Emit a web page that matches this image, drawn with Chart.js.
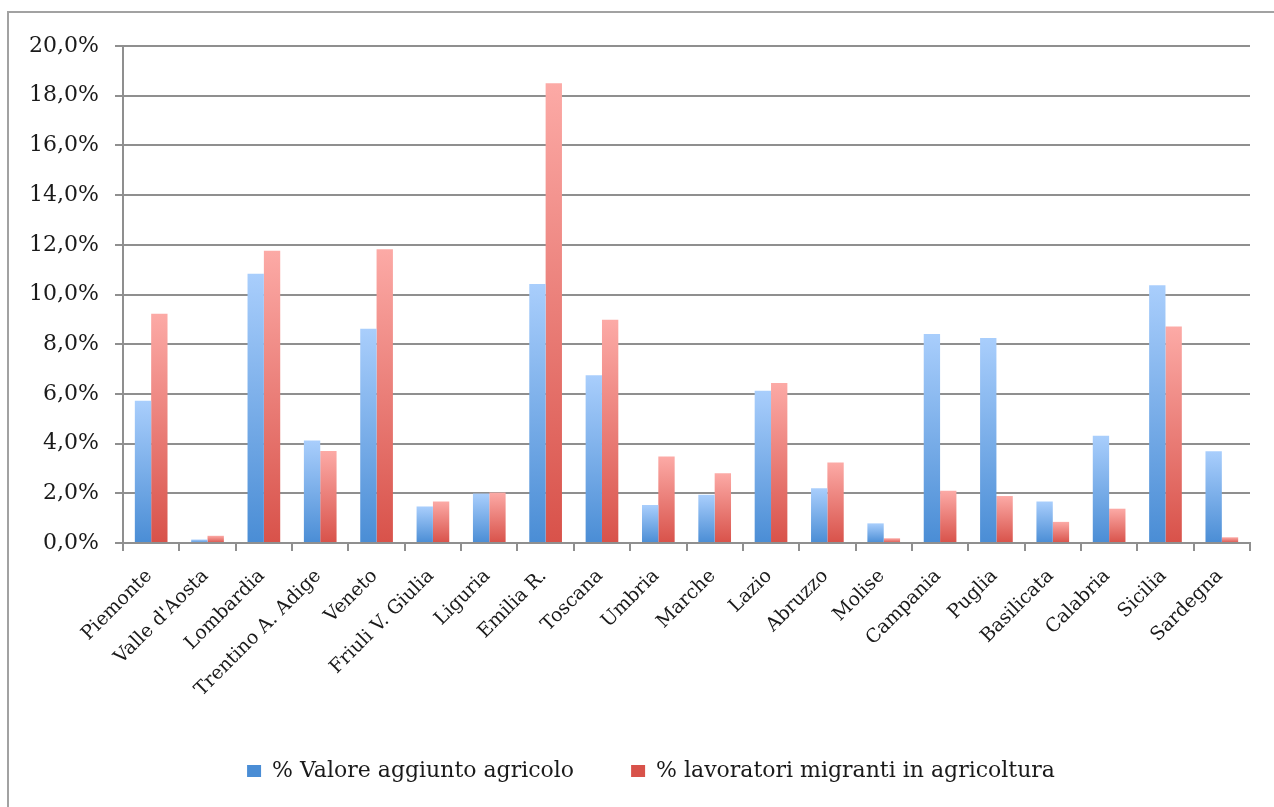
<!DOCTYPE html>
<html>
<head>
<meta charset="utf-8">
<script src="https://cdn.jsdelivr.net/npm/chart.js@4.4.1/dist/chart.umd.min.js"></script>
<style>
  html, body { margin: 0; padding: 0; background: #fff; overflow: hidden; width: 1274px; height: 807px; }
  #frame { position: absolute; left: 7px; top: 11px; width: 1400px; height: 900px; border: 2px solid #a2a2a2; box-sizing: border-box; }
  #c { position: absolute; left: 0; top: 0; }
</style>
</head>
<body>
<div id="frame"></div>
<canvas id="c" width="1274" height="792"></canvas>
<script>
const regions = ["Piemonte", "Valle d'Aosta", "Lombardia", "Trentino A. Adige", "Veneto", "Friuli V. Giulia", "Liguria", "Emilia R.", "Toscana", "Umbria", "Marche", "Lazio", "Abruzzo", "Molise", "Campania", "Puglia", "Basilicata", "Calabria", "Sicilia", "Sardegna"];
const valoreAggiunto = [5.72, 0.14, 10.84, 4.12, 8.62, 1.47, 1.99, 10.42, 6.75, 1.53, 1.94, 6.13, 2.20, 0.79, 8.41, 8.25, 1.67, 4.32, 10.37, 3.69];
const lavoratoriMigranti = [9.23, 0.29, 11.76, 3.70, 11.82, 1.67, 2.03, 18.50, 8.98, 3.48, 2.81, 6.44, 3.24, 0.19, 2.10, 1.89, 0.85, 1.38, 8.71, 0.23];
const seriesNames = ["% Valore aggiunto agricolo", "% lavoratori migranti in agricoltura"];
const yTickLabels = ["0,0%", "2,0%", "4,0%", "6,0%", "8,0%", "10,0%", "12,0%", "14,0%", "16,0%", "18,0%", "20,0%"];

const FONT = "'DejaVu Serif', serif";
const GRID = '#8f8f8f';

function gradient(light, dark, mid) {
  return (ctx) => {
    if (ctx.type !== 'data') return mid;
    const chart = ctx.chart;
    const ys = chart.scales && chart.scales.y;
    if (!chart.chartArea || !ys) return dark;
    const top = ys.getPixelForValue(ctx.raw);
    const base = ys.getPixelForValue(0);
    if (!isFinite(top) || !isFinite(base) || base - top < 1) return dark;
    const g = chart.ctx.createLinearGradient(0, top, 0, base);
    g.addColorStop(0, light);
    g.addColorStop(1, dark);
    return g;
  };
}

new Chart(document.getElementById('c'), {
  type: 'bar',
  data: {
    labels: regions,
    datasets: [
      { label: seriesNames[0], data: valoreAggiunto, yAxisID: 'y',
        backgroundColor: gradient('#a9cefc', '#4a8dd5', '#6aa6e8') },
      { label: seriesNames[1], data: lavoratoriMigranti, yAxisID: 'y',
        backgroundColor: gradient('#fcaaa6', '#d8524a', '#e8746c') }
    ]
  },
  options: {
    responsive: false,
    animation: false,
    devicePixelRatio: 1,
    layout: { padding: { left: 28, right: 0, top: 46, bottom: 0 } },
    datasets: { bar: { categoryPercentage: 0.58, barPercentage: 1.0 } },
    plugins: {
      legend: {
        position: 'bottom',
        align: 'center',
        labels: {
          boxWidth: 14, boxHeight: 12, padding: 57,
          color: '#1a1a1a',
          font: { family: FONT, size: 22 }
        }
      },
      tooltip: { enabled: false }
    },
    scales: {
      x: {
        grid: { drawOnChartArea: false, drawTicks: true, tickLength: 8, color: GRID, lineWidth: 2, offset: true },
        border: { color: GRID, width: 2 },
        ticks: { maxRotation: 45, minRotation: 45, autoSkip: false, padding: 14, labelOffset: -2, color: '#1a1a1a',
                 font: { family: FONT, size: 19 } },
        afterFit: (s) => { s.height = 160; }
      },
      y: {
        min: 0, max: 20,
        grid: { color: GRID, lineWidth: 2, tickLength: 8 },
        border: { color: GRID, width: 2 },
        ticks: { stepSize: 2, padding: 16, color: '#1a1a1a',
                 font: { family: FONT, size: 22 },
                 callback: (v) => yTickLabels[Math.round(v / 2)] },
        afterFit: (s) => { s.width = 95; }
      },
      spacer: {
        position: 'right',
        display: true,
        grid: { display: false },
        border: { display: false },
        ticks: { display: false },
        afterFit: (s) => { s.width = 24; }
      }
    }
  }
});
</script>
</body>
</html>
